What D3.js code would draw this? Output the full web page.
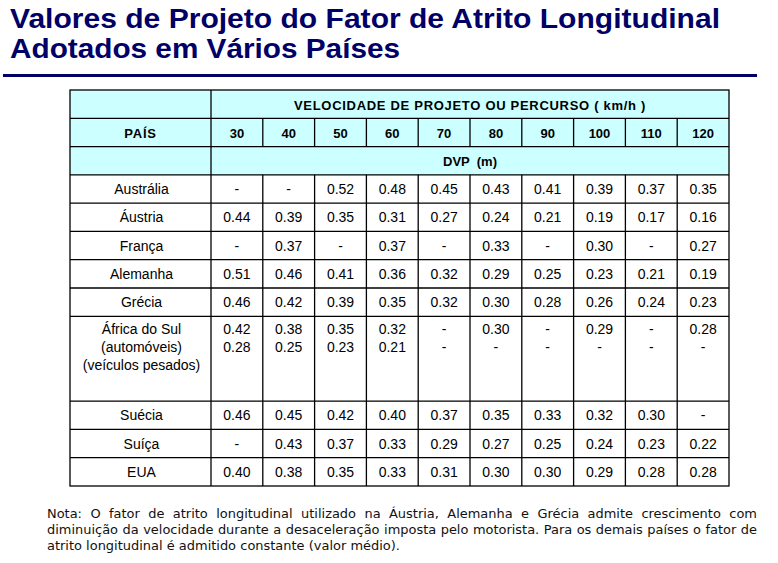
<!DOCTYPE html>
<html><head><meta charset="utf-8">
<script src="https://cdn.jsdelivr.net/npm/d3@7"></script>
<style>body{margin:0;background:#fff;overflow:hidden}</style>
</head><body><svg id="c" width="778" height="563"></svg>
<script>
// ---------- data ----------
const titleLines = ["Valores de Projeto do Fator de Atrito Longitudinal", "Adotados em Vários Países"];
const speedHeader = "VELOCIDADE DE PROJETO OU PERCURSO ( km/h )";
const countryHeader = "PAÍS";
const unitHeader = "DVP  (m)";
const speeds = [30, 40, 50, 60, 70, 80, 90, 100, 110, 120];
const countries = ["Austrália", "Áustria", "França", "Alemanha", "Grécia", "África do Sul", "Suécia", "Suíça", "EUA"];
const countrySubLabels = ["(automóveis)", "(veículos pesados)"];
const australia = [null, null, 0.52, 0.48, 0.45, 0.43, 0.41, 0.39, 0.37, 0.35];
const austria = [0.44, 0.39, 0.35, 0.31, 0.27, 0.24, 0.21, 0.19, 0.17, 0.16];
const franca = [null, 0.37, null, 0.37, null, 0.33, null, 0.30, null, 0.27];
const alemanha = [0.51, 0.46, 0.41, 0.36, 0.32, 0.29, 0.25, 0.23, 0.21, 0.19];
const grecia = [0.46, 0.42, 0.39, 0.35, 0.32, 0.30, 0.28, 0.26, 0.24, 0.23];
const africaAutomoveis = [0.42, 0.38, 0.35, 0.32, null, 0.30, null, 0.29, null, 0.28];
const africaPesados = [0.28, 0.25, 0.23, 0.21, null, null, null, null, null, null];
const suecia = [0.46, 0.45, 0.42, 0.40, 0.37, 0.35, 0.33, 0.32, 0.30, null];
const suica = [null, 0.43, 0.37, 0.33, 0.29, 0.27, 0.25, 0.24, 0.23, 0.22];
const eua = [0.40, 0.38, 0.35, 0.33, 0.31, 0.30, 0.30, 0.29, 0.28, 0.28];
const noteLines = [
  "Nota: O fator de atrito longitudinal utilizado na Áustria, Alemanha e Grécia admite crescimento com",
  "diminuição da velocidade durante a desaceleração imposta pelo motorista. Para os demais países o fator de",
  "atrito longitudinal é admitido constante (valor médio)."
];

// rows assembled from the arrays
const rows = [
  {name: countries[0], series: [australia], span: 1},
  {name: countries[1], series: [austria], span: 1},
  {name: countries[2], series: [franca], span: 1},
  {name: countries[3], series: [alemanha], span: 1},
  {name: countries[4], series: [grecia], span: 1},
  {name: countries[5], sub: countrySubLabels, series: [africaAutomoveis, africaPesados], span: 3},
  {name: countries[6], series: [suecia], span: 1},
  {name: countries[7], series: [suica], span: 1},
  {name: countries[8], series: [eua], span: 1}
];

// ---------- layout ----------
const svg = d3.select("#c");
const navy = "#000066";
const headBg = "#CCFFFF";
const tableLeft = 70, countryRight = 211, tableRight = 729;
const tableTop = 90, tableBottom = 486;

let u = 3;
rows.forEach(r => { r.u0 = u; u += r.span; r.u1 = u; });
const totalUnits = u;

const x = d3.scaleBand().domain(speeds).range([countryRight, tableRight]);
const y = d3.scaleLinear().domain([0, totalUnits]).range([tableTop, tableBottom]);

// title
svg.selectAll("text.title").data(titleLines).join("text")
  .attr("class", "title")
  .attr("x", 10).attr("y", (d, i) => 28 + i * 30)
  .attr("textLength", (d, i) => i === 0 ? 710 : 390)
  .attr("lengthAdjust", "spacingAndGlyphs")
  .style("font-family", "'Liberation Sans', Arial, sans-serif")
  .style("font-weight", "bold").style("font-size", "27px")
  .attr("fill", navy).text(d => d);

svg.append("line").attr("x1", 3).attr("x2", 757).attr("y1", 75.5).attr("y2", 75.5)
  .attr("stroke", navy).attr("stroke-width", 3);

// header background
svg.append("rect").attr("x", tableLeft).attr("y", y(0))
  .attr("width", tableRight - tableLeft).attr("height", y(3) - y(0))
  .attr("fill", headBg);

const g = svg.append("g");
const lineStyle = sel => sel.attr("stroke", "#000").attr("stroke-width", 1.3).attr("fill", "none");

// outer border
g.append("rect").attr("x", tableLeft).attr("y", tableTop)
  .attr("width", tableRight - tableLeft).attr("height", tableBottom - tableTop).call(lineStyle);

// horizontal lines
const hUnits = [1, 2, 3].concat(rows.slice(0, -1).map(r => r.u1));
g.selectAll("line.h").data(hUnits).join("line").attr("class", "h")
  .attr("x1", tableLeft).attr("x2", tableRight)
  .attr("y1", d => y(d)).attr("y2", d => y(d)).call(lineStyle);

// vertical line after country col
g.append("line").attr("x1", countryRight).attr("x2", countryRight)
  .attr("y1", tableTop).attr("y2", tableBottom).call(lineStyle);

// vertical lines between speed columns (not through merged header rows 0 and 2)
const vSeg = [];
speeds.slice(1).forEach(s => {
  vSeg.push({x: x(s), a: 1, b: 2});
  vSeg.push({x: x(s), a: 3, b: totalUnits});
});
g.selectAll("line.v").data(vSeg).join("line").attr("class", "v")
  .attr("x1", d => d.x).attr("x2", d => d.x)
  .attr("y1", d => y(d.a)).attr("y2", d => y(d.b)).call(lineStyle);

// header texts
const hFont = sel => sel.style("font-family", "'Liberation Sans', Arial, sans-serif")
  .style("font-weight", "bold").style("font-size", "13px").attr("fill", "#000")
  .attr("text-anchor", "middle").attr("dominant-baseline", "central");
const midX = (countryRight + tableRight) / 2;
svg.append("text").attr("x", midX).attr("y", (y(0) + y(1)) / 2 + 1)
  .style("letter-spacing", "0.7px").call(hFont).text(speedHeader);
svg.append("text").attr("x", (tableLeft + countryRight) / 2).attr("y", (y(1) + y(2)) / 2 + 1)
  .style("letter-spacing", "0.8px").call(hFont).text(countryHeader);
svg.selectAll("text.sp").data(speeds).join("text").attr("class", "sp")
  .attr("x", d => x(d) + x.bandwidth() / 2).attr("y", (y(1) + y(2)) / 2 + 1)
  .call(hFont).text(d => d);
svg.append("text").attr("x", midX).attr("y", (y(2) + y(3)) / 2 + 1)
  .style("white-space", "pre").call(hFont).text(unitHeader);

// body texts
const bFont = sel => sel.style("font-family", "'Liberation Sans', Arial, sans-serif")
  .style("font-size", "14px").attr("fill", "#000")
  .attr("text-anchor", "middle");
const rowG = svg.selectAll("g.row").data(rows).join("g").attr("class", "row");
rowG.each(function(r) {
  const gg = d3.select(this);
  const top = r.span === 1 ? (y(r.u0) + y(r.u1)) / 2 + 5 : y(r.u0) + 18;
  const labels = [r.name].concat(r.sub || []);
  gg.selectAll("text.lab").data(labels).join("text").attr("class", "lab")
    .attr("x", (tableLeft + countryRight) / 2 + 1).attr("y", (d, i) => top + i * 18)
    .call(bFont).text(d => d);
  r.series.forEach((vals, si) => {
    gg.selectAll("text.v" + si).data(vals).join("text").attr("class", "v" + si)
      .attr("x", (d, i) => x(speeds[i]) + x.bandwidth() / 2)
      .attr("y", top + si * 18)
      .call(bFont).text(d => d == null ? "-" : d3.format(".2f")(d));
  });
});

// note (justified), horizontally narrowed font to mimic the original typeface
const noteLeft = 47, noteRight = 757, lastLineRight = 400;
const noteG = svg.append("g");
const fs = 13;
const lineSel = noteLines.map((line, li) => {
  const words = line.split(" ");
  const ts = noteG.selectAll(null).data(words).join("text")
    .attr("y", 518 + li * 16)
    .style("font-family", "'DejaVu Sans', Tahoma, Verdana, sans-serif")
    .style("font-size", fs + "px").attr("fill", "#111").text(d => d);
  return {ts, words, widths: ts.nodes().map(n => n.getComputedTextLength())};
});
const spaceW = fs * 0.32;
const last = lineSel[lineSel.length - 1];
const lastNatural = d3.sum(last.widths) + spaceW * (last.words.length - 1);
const sx = Math.min(1, (lastLineRight - noteLeft) / lastNatural);
noteG.attr("transform", `translate(${noteLeft},0) scale(${sx},1)`);
const avail = (noteRight - noteLeft) / sx;
lineSel.forEach((L, li) => {
  const justify = li < lineSel.length - 1;
  const gap = justify ? (avail - d3.sum(L.widths)) / (L.words.length - 1) : spaceW;
  let cx = 0;
  L.ts.each(function(d, i) { d3.select(this).attr("x", cx); cx += L.widths[i] + gap; });
});
</script></body></html>
